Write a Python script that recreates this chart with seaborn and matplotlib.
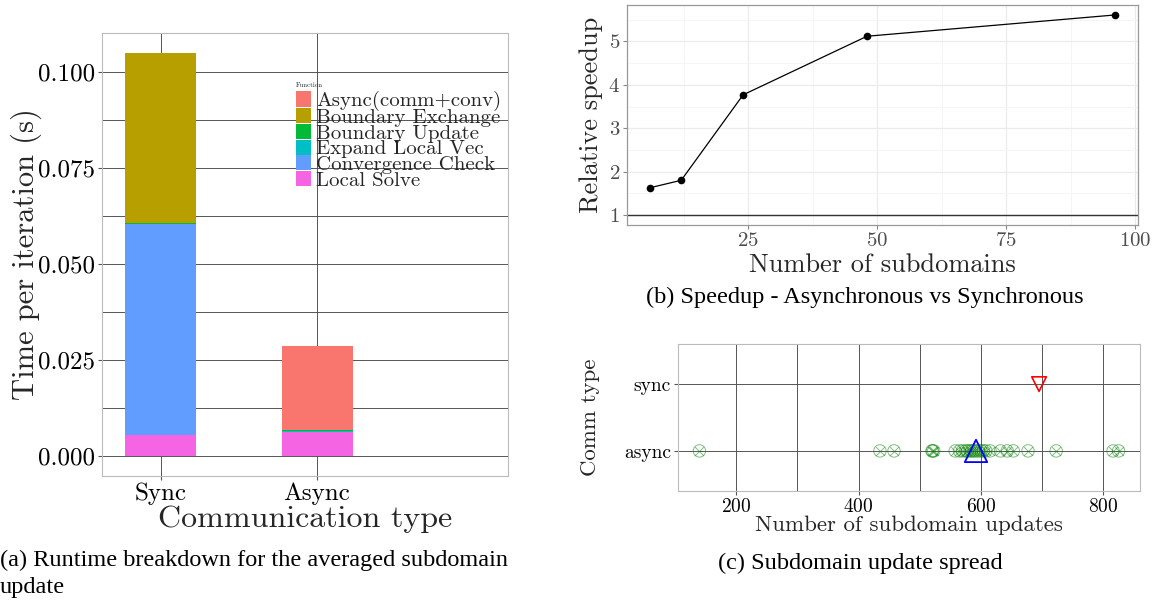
import matplotlib
matplotlib.use("Agg")
import matplotlib.pyplot as plt
import seaborn as sns
import pandas as pd
from matplotlib.patches import Patch
from matplotlib.ticker import MultipleLocator, FormatStrFormatter

# ---------------- data ----------------
comm_types = ["Sync", "Async"]
functions = ["Async(comm+conv)", "Boundary Exchange", "Boundary Update",
             "Expand Local Vec", "Convergence Check", "Local Solve"]
sync_times = [0.0, 0.0441, 0.0003, 0.0002, 0.0548, 0.0055]
async_times = [0.0219, 0.0, 0.0002, 0.0004, 0.0, 0.0061]
func_colors = ["#F8766D", "#B79F00", "#00BA38", "#00BFC4", "#619CFF", "#F564E3"]

subdomains = [6, 12, 24, 48, 96]
speedup = [1.63, 1.80, 3.77, 5.12, 5.61]
baseline = [1]

async_updates = [140, 435, 458, 520, 521, 523, 558, 565, 570, 575, 578, 582,
                 585, 588, 592, 596, 600, 604, 608, 615, 632, 643, 653, 677,
                 723, 816, 825]
async_center = [592]
sync_center = [695]

# ---------------- style ----------------
sns.set_style("white")
plt.rcParams["font.family"] = ["cmr10", "DejaVu Serif"]
plt.rcParams["mathtext.fontset"] = "cm"
plt.rcParams["axes.formatter.use_mathtext"] = True
plt.rcParams["axes.unicode_minus"] = False

W, H = 1152, 605
fig = plt.figure(figsize=(W / 100, H / 100), dpi=100)


def box(x0, y0, x1, y1):
    return [x0 / W, 1 - y1 / H, (x1 - x0) / W, (y1 - y0) / H]


# ---------------- (a) stacked bars ----------------
ax1 = fig.add_axes(box(102, 33, 508, 476))
df = pd.DataFrame({
    "pos": [0] * len(functions) + [1] * len(functions),
    "Function": functions * 2,
    "time": sync_times + async_times,
})
sns.histplot(data=df, x="pos", weights="time", hue="Function", hue_order=functions,
             multiple="stack", discrete=True, shrink=0.455, palette=func_colors,
             alpha=1, linewidth=0, legend=False, ax=ax1, zorder=3)
ax1.set_xlim(-0.378, 2.224)
ax1.set_ylim(-0.00525, 0.1102)
ax1.set_xticks([0, 1], comm_types)
ax1.yaxis.set_major_locator(MultipleLocator(0.025))
ax1.yaxis.set_minor_locator(MultipleLocator(0.0125))
ax1.yaxis.set_major_formatter(FormatStrFormatter("%.3f"))
ax1.set_axisbelow(True)
ax1.grid(True, which="both", axis="y", color="#555555", lw=0.7)
ax1.grid(True, which="major", axis="x", color="#555555", lw=0.7)
for s in ax1.spines.values():
    s.set_color("#BBBBBB")
    s.set_linewidth(0.8)
ax1.tick_params(axis="both", which="major", length=3, color="#555555",
                labelsize=18, labelcolor="black", pad=2, left=True, bottom=True)
ax1.tick_params(axis="y", which="minor", length=0)
ax1.set_xlabel("Communication type", fontsize=23)
ax1.set_ylabel("Time per iteration (s)", fontsize=22)
ax1.xaxis.set_label_coords(0.5, -0.066)
ax1.yaxis.set_label_coords(-0.148, 0.5)

handles = [Patch(facecolor=c, edgecolor="none") for c in func_colors]
leg = ax1.legend(handles, functions, title="Function", loc="upper left",
                 bbox_to_anchor=(0.477, 0.888), frameon=False, fontsize=15,
                 title_fontsize=5, handlelength=0.72, handleheight=0.74,
                 handletextpad=0.25, labelspacing=-0.15, borderpad=0,
                 borderaxespad=0)
leg._legend_box.align = "left"
leg._legend_box.sep = 2

# ---------------- (b) speedup ----------------
ax2 = fig.add_axes(box(627, 5, 1138, 225))
sns.lineplot(x=subdomains, y=speedup, color="black", lw=0.9, marker="o",
             markersize=5.5, markeredgewidth=0, ax=ax2, zorder=3)
for b in baseline:
    ax2.axhline(b, color="#333333", lw=1.0, zorder=2)
ax2.set_xlim(1.5, 100.5)
ax2.set_ylim(0.77, 5.84)
ax2.xaxis.set_major_locator(MultipleLocator(25))
ax2.xaxis.set_minor_locator(MultipleLocator(12.5))
ax2.yaxis.set_major_locator(MultipleLocator(1))
ax2.yaxis.set_minor_locator(MultipleLocator(0.5))
ax2.set_axisbelow(True)
ax2.grid(True, which="major", color="#EBEBEB", lw=0.9)
ax2.grid(True, which="minor", color="#F4F4F4", lw=0.6)
for s in ax2.spines.values():
    s.set_color("#999999")
    s.set_linewidth(0.9)
ax2.tick_params(axis="both", which="major", length=3, color="#888888",
                labelsize=15, labelcolor="#4D4D4D", pad=2, left=True, bottom=True)
ax2.tick_params(axis="both", which="minor", length=0)
ax2.set_xlabel("Number of subdomains", fontsize=19)
ax2.set_ylabel("Relative speedup", fontsize=19)
ax2.xaxis.set_label_coords(0.5, -0.13)
ax2.yaxis.set_label_coords(-0.047, 0.5)

# ---------------- (c) update spread ----------------
ax3 = fig.add_axes(box(678, 344, 1140, 491))
sns.scatterplot(x=async_updates, y=["async"] * len(async_updates), marker="o",
                s=80, color="green", facecolor="none", edgecolor="green",
                linewidth=0.7, alpha=0.5, ax=ax3, zorder=3)
sns.scatterplot(x=async_updates, y=["async"] * len(async_updates), marker="x",
                s=40, color="green", linewidth=0.7, alpha=0.5, ax=ax3, zorder=3)
sns.scatterplot(x=sync_center, y=["sync"], marker="v", s=110, color="red",
                facecolor="none", edgecolor="red", linewidth=1.2, ax=ax3, zorder=4)
sns.scatterplot(x=async_center, y=["async"], marker="^", s=260, color="blue",
                facecolor="none", edgecolor="blue", linewidth=1.3, ax=ax3, zorder=4)
ax3.set_xlim(105, 860)
ax3.set_ylim(-0.6, 1.6)
ax3.xaxis.set_major_locator(MultipleLocator(200))
ax3.xaxis.set_minor_locator(MultipleLocator(100))
ax3.set_axisbelow(True)
ax3.grid(True, which="both", axis="x", color="#555555", lw=0.7)
ax3.grid(True, which="major", axis="y", color="#555555", lw=0.7)
for s in ax3.spines.values():
    s.set_color("#BBBBBB")
    s.set_linewidth(0.8)
ax3.tick_params(axis="both", which="major", length=3, color="#555555",
                labelsize=14, labelcolor="black", pad=2, left=True, bottom=True)
ax3.tick_params(axis="x", which="minor", length=0)
ax3.set_xlabel("Number of subdomain updates", fontsize=16.5)
ax3.set_ylabel("Comm type", fontsize=16.5)
ax3.xaxis.set_label_coords(0.5, -0.165)
ax3.yaxis.set_label_coords(-0.169, 0.5)

# ---------------- captions ----------------
cap = dict(family=["Liberation Serif", "DejaVu Serif"], fontsize=17.5, color="black")
fig.text(0 / W, 1 - 560 / H, "(a) Runtime breakdown for the averaged subdomain",
         ha="left", va="center", **cap)
fig.text(0 / W, 1 - 588 / H, "update", ha="left", va="center", **cap)
fig.text(865 / W, 1 - 297 / H, "(b) Speedup - Asynchronous vs Synchronous",
         ha="center", va="center", **cap)
fig.text(860 / W, 1 - 563 / H, "(c) Subdomain update spread",
         ha="center", va="center", **cap)

fig.savefig("out.png", dpi=100)
